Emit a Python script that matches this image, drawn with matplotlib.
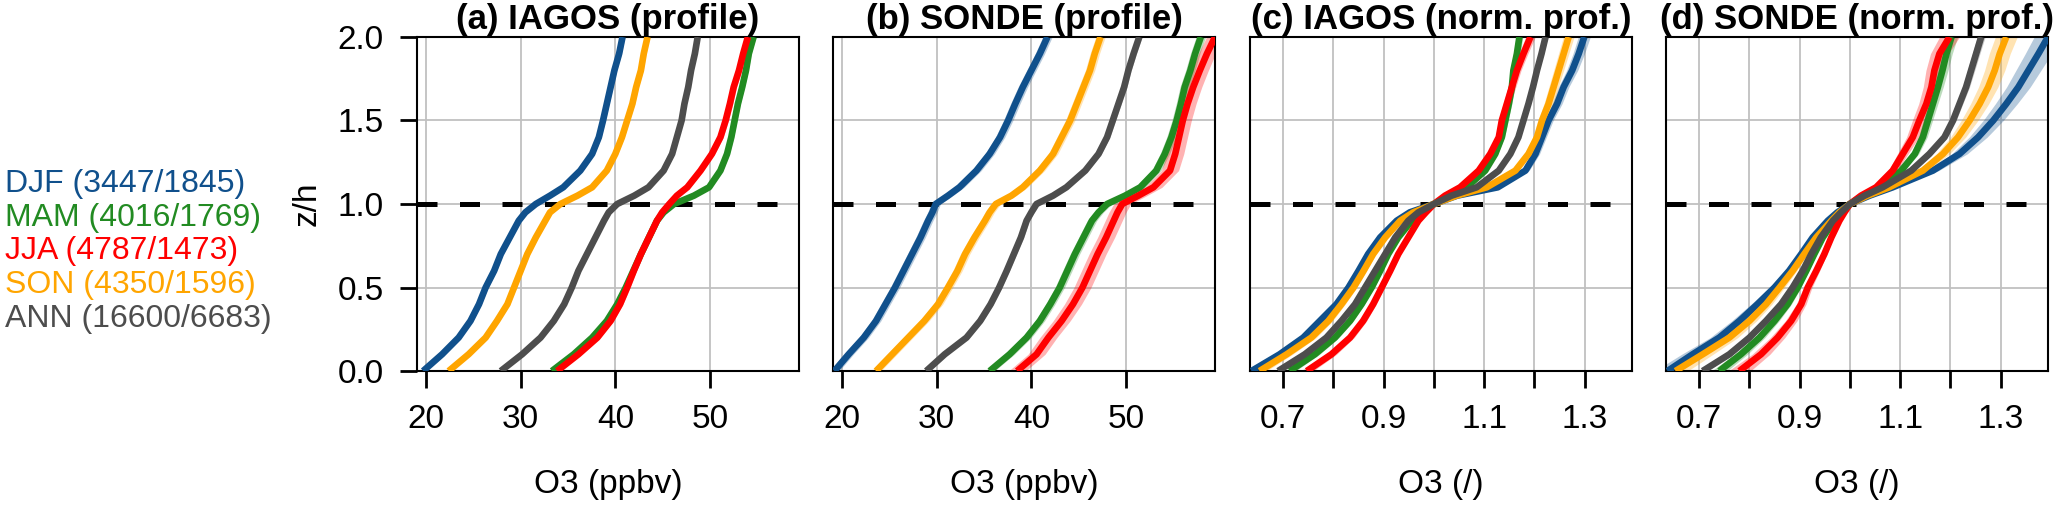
import numpy as np
import matplotlib.pyplot as plt

plt.rcParams['font.family'] = ['Liberation Sans', 'DejaVu Sans']

# vertical levels (z/h)
z = [0.0, 0.1, 0.2, 0.3, 0.4, 0.5, 0.6, 0.7, 0.8, 0.9, 0.95, 1.0, 1.05,
     1.1, 1.2, 1.3, 1.4, 1.5, 1.6, 1.7, 1.8, 1.9, 2.0]

seasons = ['DJF', 'MAM', 'JJA', 'SON', 'ANN']
n_iagos = [3447, 4016, 4787, 4350, 16600]
n_sonde = [1845, 1769, 1473, 1596, 6683]
colors = ['#10508c', '#228b22', '#ff0000', '#ffa500', '#4d4d4d']

# (a) IAGOS profile, ppbv
a_djf = [19.7, 21.7, 23.45, 24.7, 25.6, 26.3, 27.2, 27.9, 28.85, 29.8, 30.5, 31.6, 33.1,
         34.5, 36.3, 37.55, 38.26, 38.7, 39.1, 39.5, 39.9, 40.4, 40.76]
a_mam = [33.3, 35.6, 37.55, 39.1, 40.2, 41.1, 41.9, 42.7, 43.55, 44.4, 45.1, 46.2, 48.3,
         49.9, 51.1, 51.8, 52.25, 52.6, 52.95, 53.4, 53.8, 54.1, 54.6]
a_jja = [33.85, 36.1, 38.1, 39.5, 40.5, 41.25, 41.95, 42.7, 43.55, 44.4, 44.95, 45.7, 46.5,
         47.6, 49.0, 50.2, 51.1, 51.65, 52.1, 52.5, 53.06, 53.5, 54.0]
a_son = [22.4, 24.5, 26.3, 27.5, 28.6, 29.3, 30.0, 30.7, 31.6, 32.6, 33.1, 34.2, 36.0,
         37.55, 39.1, 40.0, 40.7, 41.25, 41.8, 42.2, 42.7, 43.0, 43.4]
a_ann = [27.9, 30.15, 32.1, 33.5, 34.6, 35.4, 36.1, 37.0, 37.9, 38.8, 39.3, 40.2, 42.0,
         43.5, 45.1, 46.0, 46.5, 47.0, 47.3, 47.7, 48.0, 48.4, 48.7]

# (b) SONDE profile, ppbv
b_djf = [19.2, 20.7, 22.3, 23.6, 24.6, 25.6, 26.5, 27.4, 28.3, 29.1, 29.55, 29.9, 31.2,
         32.4, 34.2, 35.6, 36.7, 37.55, 38.3, 39.1, 40.0, 40.9, 41.7]
b_mam = [35.6, 37.7, 39.5, 40.9, 42.0, 43.0, 43.8, 44.6, 45.5, 46.4, 47.1, 48.0, 49.9,
         51.5, 53.2, 54.1, 54.8, 55.35, 55.8, 56.2, 56.8, 57.3, 57.9]
b_jja = [38.5, 40.55, 41.8, 43.2, 44.4, 45.4, 46.2, 47.0, 47.9, 48.7, 49.1, 49.6, 51.3,
         52.9, 54.65, 55.2, 55.6, 56.0, 56.5, 57.1, 57.8, 58.55, 59.4]
b_son = [23.6, 25.3, 27.0, 28.7, 30.15, 31.2, 32.2, 33.0, 34.0, 35.1, 35.6, 36.25, 37.9,
         39.1, 40.9, 42.3, 43.2, 44.1, 44.8, 45.5, 46.2, 46.7, 47.3]
b_ann = [28.9, 30.85, 33.15, 34.6, 35.7, 36.6, 37.4, 38.15, 38.9, 39.5, 40.0, 40.55, 42.3,
         43.7, 45.7, 47.1, 48.0, 48.6, 49.2, 49.8, 50.25, 50.8, 51.4]

# (c) IAGOS normalised profile
c_djf = [0.637, 0.693, 0.740, 0.773, 0.806, 0.830, 0.850, 0.869, 0.893, 0.926, 0.952, 1.0, 1.046,
         1.127, 1.182, 1.202, 1.215, 1.228, 1.245, 1.258, 1.275, 1.288, 1.299]
c_mam = [0.713, 0.763, 0.803, 0.833, 0.856, 0.876, 0.893, 0.909, 0.929, 0.956, 0.976, 1.0, 1.029,
         1.065, 1.102, 1.122, 1.135, 1.142, 1.149, 1.155, 1.158, 1.165, 1.170]
c_jja = [0.747, 0.796, 0.833, 0.859, 0.879, 0.896, 0.913, 0.929, 0.949, 0.969, 0.984, 1.0, 1.022,
         1.052, 1.089, 1.112, 1.129, 1.135, 1.145, 1.155, 1.165, 1.178, 1.192]
c_son = [0.653, 0.707, 0.756, 0.790, 0.816, 0.840, 0.860, 0.879, 0.903, 0.933, 0.959, 1.0, 1.045,
         1.105, 1.162, 1.188, 1.205, 1.215, 1.228, 1.238, 1.248, 1.258, 1.268]
c_ann = [0.690, 0.743, 0.786, 0.816, 0.843, 0.863, 0.883, 0.903, 0.923, 0.949, 0.969, 1.0, 1.035,
         1.085, 1.129, 1.152, 1.168, 1.178, 1.188, 1.197, 1.205, 1.214, 1.222]

# (d) SONDE normalised profile
d_djf = [0.637, 0.687, 0.740, 0.780, 0.816, 0.850, 0.879, 0.903, 0.926, 0.956, 0.975, 1.0, 1.039,
         1.085, 1.165, 1.218, 1.255, 1.285, 1.311, 1.335, 1.355, 1.375, 1.394]
d_mam = [0.740, 0.783, 0.820, 0.850, 0.876, 0.896, 0.913, 0.929, 0.946, 0.969, 0.985, 1.0, 1.025,
         1.058, 1.102, 1.129, 1.145, 1.155, 1.165, 1.175, 1.184, 1.192, 1.202]
d_jja = [0.780, 0.823, 0.856, 0.883, 0.903, 0.916, 0.933, 0.949, 0.963, 0.979, 0.989, 1.0, 1.022,
         1.052, 1.085, 1.105, 1.125, 1.138, 1.152, 1.162, 1.168, 1.178, 1.198]
d_son = [0.653, 0.707, 0.760, 0.800, 0.833, 0.860, 0.886, 0.909, 0.933, 0.963, 0.979, 1.0, 1.035,
         1.078, 1.145, 1.185, 1.215, 1.238, 1.258, 1.275, 1.288, 1.298, 1.311]
d_ann = [0.707, 0.760, 0.800, 0.833, 0.863, 0.886, 0.906, 0.923, 0.942, 0.966, 0.982, 1.0, 1.029,
         1.065, 1.122, 1.158, 1.188, 1.205, 1.218, 1.231, 1.241, 1.251, 1.261]

# uncertainty band half-widths (ppbv for a/b, fraction of |x-1| for c/d)
err_a = [0.25, 0.25, 0.3, 0.25, 0.15]
err_b = [0.5, 0.5, 0.9, 0.5, 0.3]
rel_c = [0.04, 0.04, 0.05, 0.04, 0.02]
rel_d = [0.07, 0.06, 0.10, 0.07, 0.03]

panels = [
    ('(a) IAGOS (profile)', [a_djf, a_mam, a_jja, a_son, a_ann], err_a, False),
    ('(b) SONDE (profile)', [b_djf, b_mam, b_jja, b_son, b_ann], err_b, False),
    ('(c) IAGOS (norm. prof.)', [c_djf, c_mam, c_jja, c_son, c_ann], rel_c, True),
    ('(d) SONDE (norm. prof.)', [d_djf, d_mam, d_jja, d_son, d_ann], rel_d, True),
]

W, H = 2067, 508
fig = plt.figure(figsize=(W / 100, H / 100), dpi=100)
lefts = [417, 833, 1250, 1666]
zz = np.array(z)

for i, (title, curves, errs, norm) in enumerate(panels):
    ax = fig.add_axes([lefts[i] / W, 137 / H, 382 / W, 334 / H])
    for x, e, c in zip(curves, errs, colors):
        x = np.array(x)
        half = e * np.abs(x - 1) if norm else e
        ax.fill_betweenx(zz, x - half, x + half, color=c, alpha=0.3, lw=0, zorder=2)
        ax.plot(x, zz, color=c, lw=4.8, zorder=3, solid_capstyle='butt',
                solid_joinstyle='round')
    ax.axhline(1.0, color='k', lw=3.6, ls=(0, (4, 4.5)), zorder=2.5)

    ax.set_ylim(0, 2)
    ax.set_yticks([0, 0.5, 1.0, 1.5, 2.0])
    if norm:
        ax.set_xlim(0.634, 1.394)
        ax.set_xticks(np.arange(0.7, 1.31, 0.1))
        ax.set_xticklabels(['0.7', '', '0.9', '', '1.1', '', '1.3'])
        ax.set_xlabel('O3 (/)', fontsize=24, labelpad=24)
    else:
        ax.set_xlim(19.05, 59.4)
        ax.set_xticks([20, 30, 40, 50])
        ax.set_xlabel('O3 (ppbv)', fontsize=24, labelpad=24)

    ax.grid(color='#c0c0c0', lw=1.3, zorder=0)
    ax.set_axisbelow(True)
    ax.tick_params(axis='x', direction='out', length=12, width=2, pad=12, labelsize=24)
    if i == 0:
        ax.tick_params(axis='y', direction='out', length=12, width=2, pad=12, labelsize=24)
        ax.set_ylabel('z/h', fontsize=24, labelpad=11)
    else:
        ax.tick_params(axis='y', length=0, labelleft=False)
    for s in ax.spines.values():
        s.set_linewidth(1.5)
        s.set_color('black')
    ax.set_title(title, fontsize=25, fontweight='bold', pad=6)

# coloured text legend
for k, (s, n1, n2, c) in enumerate(zip(seasons, n_iagos, n_sonde, colors)):
    fig.text(5 / W, (H - 184 - 33.7 * k) / H, f'{s} ({n1}/{n2})', color=c,
             fontsize=23, va='center', ha='left')

fig.savefig('out.png', dpi=100)
